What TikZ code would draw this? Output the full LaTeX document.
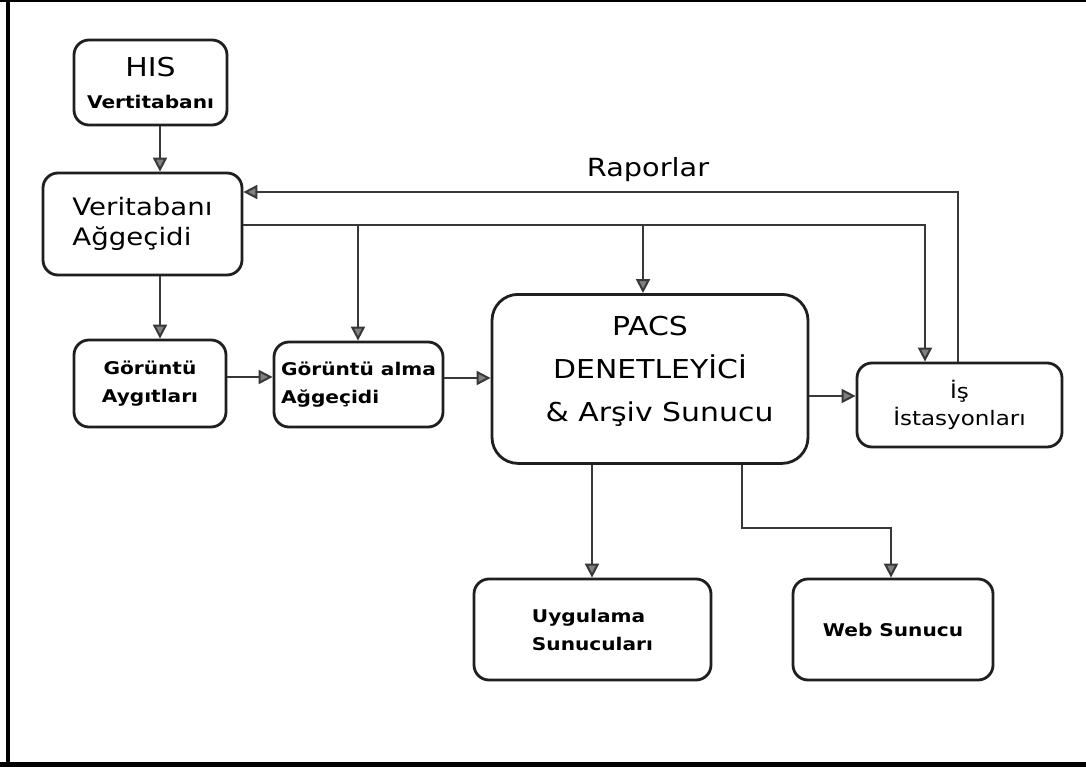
\documentclass[tikz,border=0pt]{standalone}
\usepackage{fontspec}
\setmainfont[FakeStretch=1.15]{DejaVu Sans}
\usetikzlibrary{arrows.meta}

% text sizes (1pt = one unit of the drawing grid)
\newcommand\txthuge{\fontsize{26}{43}\selectfont}
\newcommand\txtbig{\fontsize{24}{30}\selectfont}
\newcommand\txtmid{\fontsize{20}{27}\selectfont}
\newcommand\txtsmall{\fontsize{17.5}{28}\selectfont\bfseries}

\tikzset{
  box/.style={draw=black!88, line width=2.8pt, rounded corners=15pt,
              inner sep=0pt, fill=white},
  link/.style={draw=black!78, line width=2pt},
  arr/.style={link, -{Triangle[length=14pt,width=14pt,fill=black!50]}},
}

\begin{document}
\begin{tikzpicture}[x=1pt,y=-1pt]
  \useasboundingbox (0,0) rectangle (1086,767);
  \fill[white] (0,0) rectangle (1086,767);

  % frame
  \draw[line width=1.6pt] (0,1) -- (1086,1);
  \draw[line width=4pt] (8,0) -- (8,767);
  \draw[line width=5pt] (0,764.5) -- (1086,764.5);

  % boxes
  \node[box, minimum width=153pt, minimum height=85pt, align=center,
        font=\txthuge] (his) at (150.5,82.5)
    {HIS\\[-11pt]{\txtsmall Vertitabanı}};
  \node[box, minimum width=199pt, minimum height=102pt, align=left,
        font=\txtbig] (vg) at (142.5,224)
    {Veritabanı\\Ağgeçidi};
  \node[box, minimum width=152pt, minimum height=87pt, align=center,
        font=\txtsmall] (ga) at (150,383.5)
    {Görüntü\\Aygıtları};
  \node[box, minimum width=169pt, minimum height=85pt, align=left,
        font=\txtsmall] (gag) at (358.5,384.5)
    {Görüntü alma\\Ağgeçidi};
  \node[box, rounded corners=26pt, minimum width=316pt, minimum height=169pt,
        anchor=north] (pacs) at (650,293) {};
  \node[align=center, font=\txthuge] (pacstext) at (650,371)
    {PACS\\DENETLEYİCİ\\\ \ \& Arşiv Sunucu};
  \node[box, minimum width=205pt, minimum height=84pt, align=center,
        font=\txtmid] (is) at (959.5,405)
    {İş\\İstasyonları};
  \node[box, minimum width=237pt, minimum height=101pt, align=left,
        font=\txtsmall] (uy) at (592.5,629.5)
    {Uygulama\\Sunucuları};
  \node[box, minimum width=200pt, minimum height=101pt, align=center,
        font=\txtsmall] (web) at (893,629.5)
    {Web Sunucu};

  \node[font=\fontsize{25}{30}\selectfont] (rap) at (648,170) {Raporlar};

  % routing columns and rows
  \coordinate (colA) at (160,0);
  \coordinate (colB) at (358,0);
  \coordinate (colC) at (643,0);
  \coordinate (colD) at (925,0);
  \coordinate (colE) at (958,0);
  \coordinate (colF) at (592,0);
  \coordinate (colG) at (742,0);
  \coordinate (bus)  at (0,225);
  \coordinate (back) at (0,192);
  \coordinate (rowA) at (0,377);
  \coordinate (rowB) at (0,378);
  \coordinate (rowC) at (0,396);
  \coordinate (webturn) at (891,528);

  % connectors
  \draw[arr] (his.south -| colA) -- (vg.north -| colA);
  \draw[arr] (vg.south -| colA) -- (ga.north -| colA);
  \draw[arr] (vg.east |- bus) -| (is.north -| colD);
  \draw[arr] (colB |- bus) -- (gag.north -| colB);
  \draw[arr] (colC |- bus) -- (pacs.north -| colC);
  \draw[arr] (is.north -| colE) |- (vg.east |- back);
  \draw[arr] (ga.east |- rowA) -- (gag.west |- rowA);
  \draw[arr] (gag.east |- rowB) -- (pacs.west |- rowB);
  \draw[arr] (pacs.east |- rowC) -- (is.west |- rowC);
  \draw[arr] (pacs.south -| colF) -- (uy.north -| colF);
  \draw[arr] (pacs.south -| colG) |- (webturn) -- (web.north -| webturn);
\end{tikzpicture}
\end{document}
